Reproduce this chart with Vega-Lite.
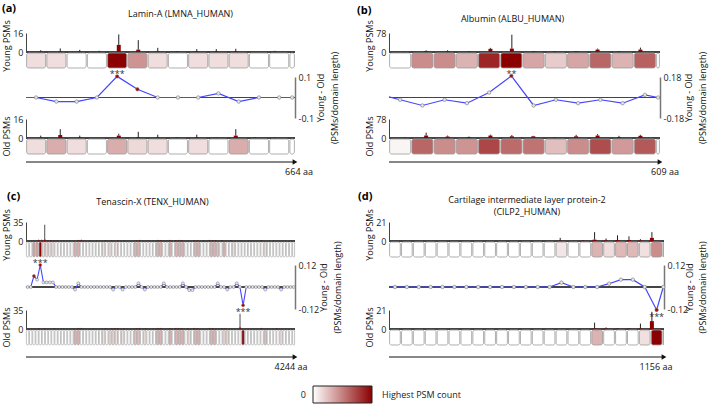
{
"$schema": "https://vega.github.io/schema/vega-lite/v6.json",
"padding": {"left": 2, "top": 2, "right": 2, "bottom": 0},
"autosize": {"type": "pad"},
"config": {
  "font": "Open Sans",
  "view": {"stroke": null},
  "axis": {"labelFontSize": 9, "titleFontSize": 9, "titleFontWeight": "normal", "labelColor": "#222", "titleColor": "#111", "ticks": false, "grid": false, "domainColor": "#444"},
  "title": {"color": "#000"}
},
"datasets": {
"A": [
{"s":0,"e":50,"m":25,"y":0.4,"ye":1.5,"o":0.5,"oe":2,"hy":0.13,"ho":0.13},
{"s":50,"e":100,"m":75,"y":0.5,"ye":3,"o":2.5,"oe":7.4,"hy":0.13,"ho":0.32},
{"s":100,"e":150,"m":125,"y":0.3,"ye":1.8,"o":0.5,"oe":2,"hy":0,"ho":0.13},
{"s":150,"e":200,"m":175,"y":0.2,"ye":1,"o":0,"oe":0,"hy":0,"ho":0},
{"s":200,"e":250,"m":225,"y":6,"ye":14.8,"o":2,"oe":3.6,"hy":1,"ho":0.32},
{"s":250,"e":300,"m":275,"y":2,"ye":10,"o":0.8,"oe":5.2,"hy":0.42,"ho":0.15},
{"s":300,"e":350,"m":325,"y":0.5,"ye":3.5,"o":0.5,"oe":2.8,"hy":0.13,"ho":0.13},
{"s":350,"e":400,"m":375,"y":0.2,"ye":0.6,"o":0.2,"oe":0.8,"hy":0,"ho":0},
{"s":400,"e":450,"m":425,"y":0.5,"ye":2.4,"o":0.5,"oe":2.8,"hy":0.13,"ho":0.13},
{"s":450,"e":500,"m":475,"y":0.5,"ye":2.4,"o":0.1,"oe":0.5,"hy":0.13,"ho":0},
{"s":500,"e":550,"m":525,"y":0.5,"ye":2.7,"o":2,"oe":7.4,"hy":0.13,"ho":0.32},
{"s":550,"e":600,"m":575,"y":0,"ye":0,"o":0.2,"oe":0.8,"hy":0,"ho":0},
{"s":600,"e":650,"m":625,"y":0.2,"ye":1,"o":0.1,"oe":0.5,"hy":0,"ho":0},
{"s":650,"e":664,"m":657,"y":0,"ye":0,"o":0,"oe":0,"hy":0,"ho":0}
],
"AL": [
{"x":0,"d":0,"p":-1},{"x":25,"d":0,"p":0},{"x":75,"d":-0.02,"p":0},{"x":125,"d":-0.02,"p":0},{"x":175,"d":0,"p":0},{"x":225,"d":0.103,"p":1,"t":"***"},{"x":275,"d":0.04,"p":1},{"x":325,"d":0,"p":0},{"x":375,"d":0,"p":0},{"x":425,"d":0,"p":0},{"x":475,"d":0.02,"p":0},{"x":525,"d":-0.02,"p":0},{"x":575,"d":0,"p":0},{"x":625,"d":0,"p":0},{"x":657,"d":0,"p":0}
],
"B": [
{"s":0,"e":50,"m":25,"y":0,"ye":2,"o":1,"oe":3,"hy":0,"ho":0.04},
{"s":50,"e":100,"m":75,"y":3,"ye":7,"o":10,"oe":22,"hy":0.45,"ho":0.6},
{"s":100,"e":150,"m":125,"y":3,"ye":7,"o":6,"oe":10,"hy":0.45,"ho":0.45},
{"s":150,"e":200,"m":175,"y":2,"ye":4,"o":4,"oe":6,"hy":0.3,"ho":0.42},
{"s":200,"e":250,"m":225,"y":13,"ye":17,"o":10,"oe":14,"hy":0.85,"ho":0.72},
{"s":250,"e":300,"m":275,"y":14,"ye":71,"o":7,"oe":12,"hy":1,"ho":0.58},
{"s":300,"e":350,"m":325,"y":2,"ye":4,"o":7,"oe":9,"hy":0.35,"ho":0.55},
{"s":350,"e":400,"m":375,"y":1.5,"ye":3,"o":1.5,"oe":3,"hy":0.2,"ho":0.25},
{"s":400,"e":450,"m":425,"y":2,"ye":4,"o":7,"oe":13,"hy":0.35,"ho":0.45},
{"s":450,"e":500,"m":475,"y":10,"ye":14,"o":10,"oe":16,"hy":0.6,"ho":0.7},
{"s":500,"e":550,"m":525,"y":2,"ye":4,"o":4,"oe":9,"hy":0.3,"ho":0.4},
{"s":550,"e":600,"m":575,"y":10,"ye":18,"o":9,"oe":13,"hy":0.62,"ho":0.65},
{"s":600,"e":609,"m":604.5,"y":0,"ye":0,"o":0,"oe":0,"hy":0,"ho":0}
],
"BL": [
{"x":0,"d":0.005,"p":-1},{"x":25,"d":-0.02,"p":0},{"x":75,"d":-0.07,"p":0},{"x":125,"d":-0.02,"p":0},{"x":175,"d":-0.05,"p":0},{"x":225,"d":0.043,"p":0},{"x":275,"d":0.19,"p":1,"t":"**"},{"x":325,"d":-0.07,"p":0},{"x":375,"d":-0.02,"p":0},{"x":425,"d":-0.05,"p":0},{"x":475,"d":-0.02,"p":0},{"x":525,"d":-0.05,"p":0},{"x":575,"d":0.023,"p":0},{"x":604.5,"d":0,"p":0}
],
"C": [
{"s":0,"e":50,"m":25,"y":0,"ye":0,"o":0,"oe":0,"hy":0,"ho":0},
{"s":50,"e":100,"m":75,"y":0,"ye":0,"o":0,"oe":0,"hy":0,"ho":0},
{"s":100,"e":150,"m":125,"y":1,"ye":2.5,"o":0.3,"oe":1,"hy":0.35,"ho":0},
{"s":150,"e":200,"m":175,"y":1,"ye":2.5,"o":0,"oe":0,"hy":0.35,"ho":0},
{"s":200,"e":250,"m":225,"y":3,"ye":30,"o":0.3,"oe":1,"hy":1,"ho":0},
{"s":250,"e":300,"m":275,"y":0.5,"ye":1.5,"o":0,"oe":0,"hy":0.15,"ho":0},
{"s":300,"e":350,"m":325,"y":0.5,"ye":1.5,"o":0,"oe":0,"hy":0.15,"ho":0},
{"s":350,"e":400,"m":375,"y":0.3,"ye":1,"o":0.3,"oe":1,"hy":0.12,"ho":0},
{"s":400,"e":450,"m":425,"y":0.3,"ye":1,"o":0,"oe":0,"hy":0.12,"ho":0},
{"s":450,"e":500,"m":475,"y":0,"ye":0,"o":0,"oe":0,"hy":0,"ho":0},
{"s":500,"e":550,"m":525,"y":0.2,"ye":0.8,"o":0.2,"oe":0.8,"hy":0,"ho":0},
{"s":550,"e":600,"m":575,"y":0,"ye":0,"o":0,"oe":0,"hy":0,"ho":0},
{"s":600,"e":650,"m":625,"y":0.2,"ye":0.8,"o":0,"oe":0,"hy":0,"ho":0},
{"s":650,"e":700,"m":675,"y":0,"ye":0,"o":0,"oe":0,"hy":0,"ho":0},
{"s":700,"e":750,"m":725,"y":0,"ye":0,"o":0,"oe":0,"hy":0,"ho":0},
{"s":750,"e":800,"m":775,"y":0.5,"ye":2,"o":0.5,"oe":2,"hy":0.3,"ho":0.3},
{"s":800,"e":850,"m":825,"y":1,"ye":2.5,"o":0.5,"oe":2,"hy":0.3,"ho":0.3},
{"s":850,"e":900,"m":875,"y":0,"ye":0,"o":0,"oe":0,"hy":0,"ho":0},
{"s":900,"e":950,"m":925,"y":0,"ye":0,"o":0,"oe":0,"hy":0,"ho":0},
{"s":950,"e":1000,"m":975,"y":0.2,"ye":0.8,"o":0,"oe":0,"hy":0,"ho":0},
{"s":1000,"e":1050,"m":1025,"y":0,"ye":0,"o":0.2,"oe":0.8,"hy":0,"ho":0},
{"s":1050,"e":1100,"m":1075,"y":0.2,"ye":0.8,"o":0,"oe":0,"hy":0,"ho":0},
{"s":1100,"e":1150,"m":1125,"y":0,"ye":0,"o":0,"oe":0,"hy":0,"ho":0},
{"s":1150,"e":1200,"m":1175,"y":0,"ye":0,"o":0,"oe":0,"hy":0,"ho":0},
{"s":1200,"e":1250,"m":1225,"y":0.3,"ye":1.5,"o":0.3,"oe":1.5,"hy":0.12,"ho":0.12},
{"s":1250,"e":1300,"m":1275,"y":0,"ye":0,"o":0,"oe":0,"hy":0,"ho":0},
{"s":1300,"e":1350,"m":1325,"y":0.3,"ye":1,"o":0.3,"oe":1,"hy":0.12,"ho":0.15},
{"s":1350,"e":1400,"m":1375,"y":0,"ye":0,"o":0.5,"oe":1.5,"hy":0,"ho":0.15},
{"s":1400,"e":1450,"m":1425,"y":0.3,"ye":1,"o":0.3,"oe":1,"hy":0.12,"ho":0.12},
{"s":1450,"e":1500,"m":1475,"y":0,"ye":0,"o":0,"oe":0,"hy":0,"ho":0},
{"s":1500,"e":1550,"m":1525,"y":0.2,"ye":0.8,"o":0.3,"oe":1,"hy":0,"ho":0.12},
{"s":1550,"e":1600,"m":1575,"y":0,"ye":0,"o":0,"oe":0,"hy":0,"ho":0},
{"s":1600,"e":1650,"m":1625,"y":0,"ye":0,"o":0,"oe":0,"hy":0,"ho":0},
{"s":1650,"e":1700,"m":1675,"y":0,"ye":0,"o":0,"oe":0,"hy":0,"ho":0},
{"s":1700,"e":1750,"m":1725,"y":0.5,"ye":1.5,"o":0.5,"oe":1.5,"hy":0.3,"ho":0.25},
{"s":1750,"e":1800,"m":1775,"y":0.5,"ye":2,"o":0.5,"oe":2,"hy":0.3,"ho":0.25},
{"s":1800,"e":1850,"m":1825,"y":0,"ye":0,"o":0,"oe":0,"hy":0,"ho":0},
{"s":1850,"e":1900,"m":1875,"y":0,"ye":0,"o":0.5,"oe":1.5,"hy":0,"ho":0.12},
{"s":1900,"e":1950,"m":1925,"y":0.2,"ye":0.8,"o":0,"oe":0,"hy":0,"ho":0},
{"s":1950,"e":2000,"m":1975,"y":0,"ye":0,"o":0,"oe":0,"hy":0,"ho":0},
{"s":2000,"e":2050,"m":2025,"y":0,"ye":0,"o":0,"oe":0,"hy":0,"ho":0},
{"s":2050,"e":2100,"m":2075,"y":0.5,"ye":2,"o":0.5,"oe":2,"hy":0.3,"ho":0.3},
{"s":2100,"e":2150,"m":2125,"y":0.5,"ye":1.5,"o":0.5,"oe":2,"hy":0.3,"ho":0.3},
{"s":2150,"e":2200,"m":2175,"y":0.2,"ye":0.8,"o":0,"oe":0,"hy":0,"ho":0},
{"s":2200,"e":2250,"m":2225,"y":0.2,"ye":0.8,"o":0,"oe":0,"hy":0,"ho":0},
{"s":2250,"e":2300,"m":2275,"y":0.5,"ye":2,"o":0.5,"oe":1.5,"hy":0.3,"ho":0.3},
{"s":2300,"e":2350,"m":2325,"y":0,"ye":0,"o":0,"oe":0,"hy":0,"ho":0},
{"s":2350,"e":2400,"m":2375,"y":0.5,"ye":1.5,"o":0.5,"oe":2,"hy":0.3,"ho":0.3},
{"s":2400,"e":2450,"m":2425,"y":0.5,"ye":2,"o":0.5,"oe":2,"hy":0.3,"ho":0.3},
{"s":2450,"e":2500,"m":2475,"y":0.5,"ye":1.5,"o":0.5,"oe":1.5,"hy":0.3,"ho":0.3},
{"s":2500,"e":2550,"m":2525,"y":0,"ye":0,"o":0,"oe":0,"hy":0,"ho":0},
{"s":2550,"e":2600,"m":2575,"y":0.2,"ye":0.8,"o":0.3,"oe":1,"hy":0,"ho":0.12},
{"s":2600,"e":2650,"m":2625,"y":0,"ye":0,"o":0,"oe":0,"hy":0,"ho":0},
{"s":2650,"e":2700,"m":2675,"y":0.5,"ye":1.5,"o":0.5,"oe":2,"hy":0.3,"ho":0.3},
{"s":2700,"e":2750,"m":2725,"y":0.5,"ye":1.5,"o":0.5,"oe":1.5,"hy":0.3,"ho":0.3},
{"s":2750,"e":2800,"m":2775,"y":0,"ye":0,"o":0,"oe":0,"hy":0,"ho":0},
{"s":2800,"e":2850,"m":2825,"y":0.2,"ye":0.8,"o":0,"oe":0,"hy":0,"ho":0},
{"s":2850,"e":2900,"m":2875,"y":0,"ye":0,"o":0,"oe":0,"hy":0,"ho":0},
{"s":2900,"e":2950,"m":2925,"y":0.5,"ye":2,"o":0.5,"oe":2,"hy":0.3,"ho":0.3},
{"s":2950,"e":3000,"m":2975,"y":0.5,"ye":1.5,"o":0.5,"oe":1.5,"hy":0.3,"ho":0.3},
{"s":3000,"e":3050,"m":3025,"y":0.5,"ye":1.5,"o":0,"oe":0,"hy":0.25,"ho":0},
{"s":3050,"e":3100,"m":3075,"y":0,"ye":0,"o":0,"oe":0,"hy":0,"ho":0},
{"s":3100,"e":3150,"m":3125,"y":0.5,"ye":1.5,"o":0.3,"oe":1,"hy":0.3,"ho":0.15},
{"s":3150,"e":3200,"m":3175,"y":0,"ye":0,"o":0.3,"oe":1,"hy":0,"ho":0.15},
{"s":3200,"e":3250,"m":3225,"y":0,"ye":0,"o":0,"oe":0,"hy":0,"ho":0},
{"s":3250,"e":3300,"m":3275,"y":0.3,"ye":1.5,"o":0,"oe":0,"hy":0.12,"ho":0},
{"s":3300,"e":3350,"m":3325,"y":0,"ye":0,"o":0,"oe":0,"hy":0,"ho":0},
{"s":3350,"e":3400,"m":3375,"y":0,"ye":0,"o":0,"oe":0,"hy":0,"ho":0},
{"s":3400,"e":3450,"m":3425,"y":0.2,"ye":0.8,"o":3,"oe":28,"hy":0,"ho":1},
{"s":3450,"e":3500,"m":3475,"y":0,"ye":0,"o":0,"oe":0,"hy":0,"ho":0},
{"s":3500,"e":3550,"m":3525,"y":0,"ye":0,"o":0,"oe":0,"hy":0,"ho":0},
{"s":3550,"e":3600,"m":3575,"y":0.2,"ye":0.8,"o":0,"oe":0,"hy":0,"ho":0},
{"s":3600,"e":3650,"m":3625,"y":0,"ye":0,"o":0,"oe":0,"hy":0,"ho":0},
{"s":3650,"e":3700,"m":3675,"y":0,"ye":0,"o":0,"oe":0,"hy":0,"ho":0},
{"s":3700,"e":3750,"m":3725,"y":0,"ye":0,"o":0,"oe":0,"hy":0,"ho":0},
{"s":3750,"e":3800,"m":3775,"y":0.3,"ye":1.5,"o":0.5,"oe":2,"hy":0.12,"ho":0.25},
{"s":3800,"e":3850,"m":3825,"y":0,"ye":0,"o":0,"oe":0,"hy":0,"ho":0},
{"s":3850,"e":3900,"m":3875,"y":0,"ye":0,"o":0,"oe":0,"hy":0,"ho":0},
{"s":3900,"e":3950,"m":3925,"y":0,"ye":0,"o":0,"oe":0,"hy":0,"ho":0},
{"s":3950,"e":4000,"m":3975,"y":0.2,"ye":0.8,"o":0,"oe":0,"hy":0,"ho":0},
{"s":4000,"e":4050,"m":4025,"y":0,"ye":0,"o":0.5,"oe":1.5,"hy":0,"ho":0.12},
{"s":4050,"e":4100,"m":4075,"y":0,"ye":0,"o":0,"oe":0,"hy":0,"ho":0},
{"s":4100,"e":4150,"m":4125,"y":0,"ye":0,"o":0,"oe":0,"hy":0,"ho":0},
{"s":4150,"e":4200,"m":4175,"y":0,"ye":0,"o":0,"oe":0,"hy":0,"ho":0},
{"s":4200,"e":4244,"m":4222,"y":0,"ye":0,"o":0,"oe":0,"hy":0,"ho":0}
],
"CL": [
{"x":0,"d":0,"p":-1},
{"x":25,"d":0,"p":0},{"x":75,"d":0,"p":0},{"x":125,"d":0.06,"p":1},{"x":175,"d":0.04,"p":0},{"x":225,"d":0.12,"p":1,"t":"***"},{"x":275,"d":0.025,"p":0},{"x":325,"d":0.025,"p":0},{"x":375,"d":0.025,"p":0},{"x":425,"d":0.025,"p":0},{"x":475,"d":0,"p":0},
{"x":525,"d":0,"p":0},{"x":575,"d":0,"p":0},{"x":625,"d":0,"p":0},{"x":675,"d":0,"p":0},{"x":725,"d":0,"p":0},{"x":775,"d":-0.014,"p":0},{"x":825,"d":0.02,"p":0},{"x":875,"d":0,"p":0},{"x":925,"d":0,"p":0},{"x":975,"d":0,"p":0},
{"x":1025,"d":0,"p":0},{"x":1075,"d":0,"p":0},{"x":1125,"d":0,"p":0},{"x":1175,"d":0,"p":0},{"x":1225,"d":0,"p":0},{"x":1275,"d":0,"p":0},{"x":1325,"d":0,"p":0},{"x":1375,"d":-0.014,"p":0},{"x":1425,"d":0,"p":0},{"x":1475,"d":0,"p":0},
{"x":1525,"d":-0.014,"p":0},{"x":1575,"d":0,"p":0},{"x":1625,"d":0,"p":0},{"x":1675,"d":0,"p":0},{"x":1725,"d":0,"p":0},{"x":1775,"d":0.02,"p":0},{"x":1825,"d":0,"p":0},{"x":1875,"d":-0.014,"p":0},{"x":1925,"d":0,"p":0},{"x":1975,"d":0,"p":0},
{"x":2025,"d":0,"p":0},{"x":2075,"d":0,"p":0},{"x":2125,"d":0,"p":0},{"x":2175,"d":0.02,"p":0},{"x":2225,"d":0,"p":0},{"x":2275,"d":0,"p":0},{"x":2325,"d":0,"p":0},{"x":2375,"d":0,"p":0},{"x":2425,"d":0,"p":0},{"x":2475,"d":0.02,"p":0},
{"x":2525,"d":0,"p":0},{"x":2575,"d":-0.017,"p":0},{"x":2625,"d":-0.017,"p":0},{"x":2675,"d":0,"p":0},{"x":2725,"d":0,"p":0},{"x":2775,"d":0,"p":0},{"x":2825,"d":0,"p":0},{"x":2875,"d":0,"p":0},{"x":2925,"d":0,"p":0},{"x":2975,"d":0,"p":0},
{"x":3025,"d":0.02,"p":0},{"x":3075,"d":0,"p":0},{"x":3125,"d":0,"p":0},{"x":3175,"d":-0.014,"p":0},{"x":3225,"d":0,"p":0},{"x":3275,"d":0,"p":0},{"x":3325,"d":0.02,"p":0},{"x":3375,"d":0,"p":0},{"x":3425,"d":-0.1,"p":1,"t":"***"},{"x":3475,"d":0,"p":0},
{"x":3525,"d":0,"p":0},{"x":3575,"d":0,"p":0},{"x":3625,"d":0,"p":0},{"x":3675,"d":0,"p":0},{"x":3725,"d":0,"p":0},{"x":3775,"d":-0.014,"p":0},{"x":3825,"d":0,"p":0},{"x":3875,"d":0,"p":0},{"x":3925,"d":0,"p":0},{"x":3975,"d":0,"p":0},
{"x":4025,"d":-0.014,"p":0},{"x":4075,"d":0,"p":0},{"x":4125,"d":0,"p":0},{"x":4175,"d":0,"p":0},{"x":4222,"d":0,"p":0}
],
"D": [
{"s":0,"e":50,"m":25,"y":0,"ye":0,"o":0,"oe":0,"hy":0,"ho":0},
{"s":50,"e":100,"m":75,"y":0,"ye":0,"o":0,"oe":0,"hy":0,"ho":0},
{"s":100,"e":150,"m":125,"y":0,"ye":0,"o":0,"oe":0,"hy":0,"ho":0},
{"s":150,"e":200,"m":175,"y":0,"ye":0,"o":0,"oe":0,"hy":0,"ho":0},
{"s":200,"e":250,"m":225,"y":0,"ye":0,"o":0,"oe":0,"hy":0,"ho":0},
{"s":250,"e":300,"m":275,"y":0,"ye":0,"o":0,"oe":0,"hy":0,"ho":0},
{"s":300,"e":350,"m":325,"y":0,"ye":0,"o":0,"oe":0,"hy":0,"ho":0},
{"s":350,"e":400,"m":375,"y":0,"ye":0,"o":0,"oe":0,"hy":0,"ho":0},
{"s":400,"e":450,"m":425,"y":0,"ye":0,"o":0,"oe":0,"hy":0,"ho":0},
{"s":450,"e":500,"m":475,"y":0,"ye":0,"o":0,"oe":0,"hy":0,"ho":0},
{"s":500,"e":550,"m":525,"y":0,"ye":0,"o":0,"oe":0,"hy":0,"ho":0},
{"s":550,"e":600,"m":575,"y":0,"ye":0,"o":0,"oe":0,"hy":0,"ho":0},
{"s":600,"e":650,"m":625,"y":0,"ye":0,"o":0,"oe":0,"hy":0,"ho":0},
{"s":650,"e":700,"m":675,"y":0,"ye":0,"o":0,"oe":0,"hy":0,"ho":0},
{"s":700,"e":750,"m":725,"y":0.3,"ye":3.5,"o":0,"oe":0,"hy":0.1,"ho":0},
{"s":750,"e":800,"m":775,"y":0,"ye":0,"o":0,"oe":0,"hy":0,"ho":0},
{"s":800,"e":850,"m":825,"y":0.2,"ye":1,"o":0,"oe":0,"hy":0,"ho":0},
{"s":850,"e":900,"m":875,"y":1.5,"ye":9.8,"o":0.5,"oe":7,"hy":0.3,"ho":0.3},
{"s":900,"e":950,"m":925,"y":0.5,"ye":2.8,"o":0.3,"oe":1.7,"hy":0.13,"ho":0},
{"s":950,"e":1000,"m":975,"y":1,"ye":6.3,"o":0.2,"oe":1,"hy":0.28,"ho":0},
{"s":1000,"e":1050,"m":1025,"y":1,"ye":5.2,"o":0.2,"oe":1,"hy":0.28,"ho":0},
{"s":1050,"e":1100,"m":1075,"y":0.5,"ye":2,"o":0.5,"oe":6,"hy":0.12,"ho":0.12},
{"s":1100,"e":1150,"m":1125,"y":3.5,"ye":9.8,"o":8.7,"oe":19,"hy":0.45,"ho":1},
{"s":1150,"e":1156,"m":1153,"y":0,"ye":0,"o":0,"oe":0,"hy":0,"ho":0}
],
"DL": [
{"x":0,"d":0,"p":-1},
{"x":25,"d":0,"p":0},{"x":75,"d":0,"p":0},{"x":125,"d":0,"p":0},{"x":175,"d":0,"p":0},{"x":225,"d":0,"p":0},{"x":275,"d":0,"p":0},{"x":325,"d":0,"p":0},{"x":375,"d":0,"p":0},{"x":425,"d":0,"p":0},{"x":475,"d":0,"p":0},{"x":525,"d":0,"p":0},{"x":575,"d":0,"p":0},{"x":625,"d":0,"p":0},{"x":675,"d":0,"p":0},
{"x":725,"d":0.024,"p":0},{"x":775,"d":0,"p":0},{"x":825,"d":0,"p":0},{"x":875,"d":0,"p":0},{"x":925,"d":0.018,"p":0},{"x":975,"d":0.04,"p":0},{"x":1025,"d":0.04,"p":0},{"x":1075,"d":0,"p":0},{"x":1125,"d":-0.125,"p":1,"t":"***"},{"x":1153,"d":0,"p":0}
]
},
"vconcat": [
{"concat": [
{"width":269,"height":19,"title":{"text":"(a)","anchor":"start","frame":"group","dx":-24,"dy":4,"offset":0,"fontSize":11,"fontWeight":"bold"},"data":{"name":"A"},"layer":[
 {"mark":{"type":"rule","color":"#444"},"encoding":{"y":{"datum":0,"type":"quantitative","scale":{"domain":[0,16],"nice":false},"axis":{"title":"Young PSMs","values":[0,16],"titleY":12.5,"titlePadding":1,"labelPadding":3}}}},
 {"mark":{"type":"rule","color":"#222","strokeWidth":1},"encoding":{"x":{"field":"m","type":"quantitative","title":"Lamin-A (LMNA_HUMAN)","scale":{"domain":[0,664],"nice":false,"zero":false},"axis":{"orient":"top","domain":false,"labels":false,"ticks":false,"titlePadding":14.5,"titleX":154}},"y":{"field":"ye","type":"quantitative","title":"Young PSMs"},"y2":{"field":"y"}}},
 {"mark":{"type":"bar","orient":"vertical","size":4,"color":"#8b0000"},"encoding":{"x":{"field":"m","type":"quantitative","title":"Lamin-A (LMNA_HUMAN)"},"y":{"field":"y","type":"quantitative","title":"Young PSMs","stack":null}}}
]},
{"width":271,"height":19,"title":{"text":"(b)","anchor":"start","frame":"group","dx":-32,"dy":1,"offset":0,"fontSize":11,"fontWeight":"bold"},"data":{"name":"B"},"layer":[
 {"mark":{"type":"rule","color":"#444"},"encoding":{"y":{"datum":0,"type":"quantitative","scale":{"domain":[0,78],"nice":false},"axis":{"title":"Young PSMs","values":[0,78],"titleY":12.5,"titlePadding":1,"labelPadding":3}}}},
 {"mark":{"type":"rule","color":"#222","strokeWidth":1},"encoding":{"x":{"field":"m","type":"quantitative","title":"Albumin (ALBU_HUMAN)","scale":{"domain":[0,609],"nice":false,"zero":false},"axis":{"orient":"top","domain":false,"labels":false,"ticks":false,"titlePadding":9.5,"titleX":123}},"y":{"field":"ye","type":"quantitative","title":"Young PSMs"},"y2":{"field":"y"}}},
 {"mark":{"type":"bar","orient":"vertical","size":4,"color":"#8b0000"},"encoding":{"x":{"field":"m","type":"quantitative","title":"Albumin (ALBU_HUMAN)"},"y":{"field":"y","type":"quantitative","title":"Young PSMs","stack":null}}}
]},
{"width":269,"height":23,"data":{"name":"A"},"mark":{"type":"rect","stroke":"#9a9a9a","strokeWidth":0.8,"cornerRadius":2,"xOffset":0.6,"x2Offset":-0.6},"encoding":{"x":{"field":"s","type":"quantitative","scale":{"domain":[0,664],"nice":false,"zero":false},"axis":null},"x2":{"field":"e"},"y":{"datum":"r","type":"nominal","scale":{"paddingInner":0,"paddingOuter":0.2667,"align":0},"axis":null},"color":{"field":"hy","type":"quantitative","scale":{"domain":[0,1],"range":["#ffffff","#8b0000"],"interpolate":"rgb"},"legend":null}}},
{"width":271,"height":23,"data":{"name":"B"},"mark":{"type":"rect","stroke":"#9a9a9a","strokeWidth":0.8,"cornerRadius":2,"xOffset":0.6,"x2Offset":-0.6},"encoding":{"x":{"field":"s","type":"quantitative","scale":{"domain":[0,609],"nice":false,"zero":false},"axis":null},"x2":{"field":"e"},"y":{"datum":"r","type":"nominal","scale":{"paddingInner":0,"paddingOuter":0.2667,"align":0},"axis":null},"color":{"field":"hy","type":"quantitative","scale":{"domain":[0,1],"range":["#ffffff","#8b0000"],"interpolate":"rgb"},"legend":null}}},
{"width":269,"height":41,"data":{"name":"AL"},"layer":[
 {"mark":{"type":"rule","color":"#444","strokeWidth":1},"encoding":{"y":{"datum":0,"type":"quantitative","scale":{"domain":[-0.1,0.1],"nice":false,"zero":false},"axis":{"title":["Young - Old","(PSMs/domain length)"],"orient":"right","values":[-0.1,0.1],"format":".2~f","labelExpr":"replace(datum.label, '\u2212', '-')","domainColor":"#777","domainWidth":1.5,"titleAngle":270,"titleBaseline":"top","titleX":21,"titleLineHeight":14,"labelPadding":3}}}},
 {"mark":{"type":"line","color":"#4646ff","strokeWidth":1.2},"encoding":{"x":{"field":"x","type":"quantitative","scale":{"domain":[0,664],"nice":false,"zero":false},"axis":null},"y":{"field":"d","type":"quantitative","title":["Young - Old","(PSMs/domain length)"]}}},
 {"transform":[{"filter":"datum.p >= 0"}],"mark":{"type":"circle","size":12,"stroke":"#777","strokeWidth":0.6,"opacity":1},"encoding":{"x":{"field":"x","type":"quantitative"},"y":{"field":"d","type":"quantitative","title":["Young - Old","(PSMs/domain length)"]},"color":{"condition":{"test":"datum.p == 1","value":"#b00000"},"value":"#e6e6e6"}}},
 {"transform":[{"filter":"datum.t && datum.d > 0"}],"mark":{"type":"text","fontSize":9,"dy":-2,"color":"#333"},"encoding":{"x":{"field":"x","type":"quantitative"},"y":{"field":"d","type":"quantitative","title":["Young - Old","(PSMs/domain length)"]},"text":{"field":"t"}}}
]},
{"width":271,"height":41,"data":{"name":"BL"},"layer":[
 {"mark":{"type":"rule","color":"#444","strokeWidth":1},"encoding":{"y":{"datum":0,"type":"quantitative","scale":{"domain":[-0.18,0.18],"nice":false,"zero":false},"axis":{"title":["Young - Old","(PSMs/domain length)"],"orient":"right","values":[-0.18,0.18],"format":".2~f","labelExpr":"replace(datum.label, '\u2212', '-')","domainColor":"#777","domainWidth":1.5,"titleAngle":270,"titleBaseline":"top","titleX":24,"titleLineHeight":14,"labelPadding":3}}}},
 {"mark":{"type":"line","color":"#4646ff","strokeWidth":1.2},"encoding":{"x":{"field":"x","type":"quantitative","scale":{"domain":[0,609],"nice":false,"zero":false},"axis":null},"y":{"field":"d","type":"quantitative","title":["Young - Old","(PSMs/domain length)"]}}},
 {"transform":[{"filter":"datum.p >= 0"}],"mark":{"type":"circle","size":12,"stroke":"#777","strokeWidth":0.6,"opacity":1},"encoding":{"x":{"field":"x","type":"quantitative"},"y":{"field":"d","type":"quantitative","title":["Young - Old","(PSMs/domain length)"]},"color":{"condition":{"test":"datum.p == 1","value":"#b00000"},"value":"#e6e6e6"}}},
 {"transform":[{"filter":"datum.t && datum.d > 0"}],"mark":{"type":"text","fontSize":9,"dy":-2,"color":"#333"},"encoding":{"x":{"field":"x","type":"quantitative"},"y":{"field":"d","type":"quantitative","title":["Young - Old","(PSMs/domain length)"]},"text":{"field":"t"}}}
]},
{"width":269,"height":19,"data":{"name":"A"},"layer":[
 {"mark":{"type":"rule","color":"#444"},"encoding":{"y":{"datum":0,"type":"quantitative","scale":{"domain":[0,16],"nice":false},"axis":{"title":"Old PSMs","values":[0,16],"titleY":17,"titlePadding":1,"labelPadding":3}}}},
 {"mark":{"type":"rule","color":"#222","strokeWidth":1},"encoding":{"x":{"field":"m","type":"quantitative","scale":{"domain":[0,664],"nice":false,"zero":false},"axis":null},"y":{"field":"oe","type":"quantitative","title":"Old PSMs"},"y2":{"field":"o"}}},
 {"mark":{"type":"bar","orient":"vertical","size":4,"color":"#8b0000"},"encoding":{"x":{"field":"m","type":"quantitative"},"y":{"field":"o","type":"quantitative","title":"Old PSMs","stack":null}}}
]},
{"width":271,"height":19,"data":{"name":"B"},"layer":[
 {"mark":{"type":"rule","color":"#444"},"encoding":{"y":{"datum":0,"type":"quantitative","scale":{"domain":[0,78],"nice":false},"axis":{"title":"Old PSMs","values":[0,78],"titleY":17,"titlePadding":1,"labelPadding":3}}}},
 {"mark":{"type":"rule","color":"#222","strokeWidth":1},"encoding":{"x":{"field":"m","type":"quantitative","scale":{"domain":[0,609],"nice":false,"zero":false},"axis":null},"y":{"field":"oe","type":"quantitative","title":"Old PSMs"},"y2":{"field":"o"}}},
 {"mark":{"type":"bar","orient":"vertical","size":4,"color":"#8b0000"},"encoding":{"x":{"field":"m","type":"quantitative"},"y":{"field":"o","type":"quantitative","title":"Old PSMs","stack":null}}}
]},
{"width":269,"height":22,"data":{"name":"A"},"mark":{"type":"rect","stroke":"#9a9a9a","strokeWidth":0.8,"cornerRadius":2,"xOffset":0.6,"x2Offset":-0.6},"encoding":{"x":{"field":"s","type":"quantitative","scale":{"domain":[0,664],"nice":false,"zero":false},"axis":null},"x2":{"field":"e"},"y":{"datum":"r","type":"nominal","scale":{"paddingInner":0,"paddingOuter":0.2333,"align":0},"axis":null},"color":{"field":"ho","type":"quantitative","scale":{"domain":[0,1],"range":["#ffffff","#8b0000"],"interpolate":"rgb"},"legend":null}}},
{"width":271,"height":22,"data":{"name":"B"},"mark":{"type":"rect","stroke":"#9a9a9a","strokeWidth":0.8,"cornerRadius":2,"xOffset":0.6,"x2Offset":-0.6},"encoding":{"x":{"field":"s","type":"quantitative","scale":{"domain":[0,609],"nice":false,"zero":false},"axis":null},"x2":{"field":"e"},"y":{"datum":"r","type":"nominal","scale":{"paddingInner":0,"paddingOuter":0.2333,"align":0},"axis":null},"color":{"field":"ho","type":"quantitative","scale":{"domain":[0,1],"range":["#ffffff","#8b0000"],"interpolate":"rgb"},"legend":null}}},
{"width":269,"height":59,"data":{"values":[{"z":0,"len":664,"one":1,"lab":"664 aa"}]},"layer":[
 {"mark":{"type":"rule","color":"#111","strokeWidth":1},"encoding":{"x":{"field":"z","type":"quantitative","scale":{"domain":[0,664],"nice":false,"zero":false},"axis":null},"x2":{"field":"len"},"y":{"field":"one","type":"quantitative","scale":{"domain":[0,1]},"axis":null}}},
 {"mark":{"type":"point","shape":"triangle-right","size":30,"filled":true,"color":"#111","opacity":1},"encoding":{"x":{"field":"len","type":"quantitative"},"y":{"field":"one","type":"quantitative"}}},
 {"mark":{"type":"text","fontSize":9,"dy":10,"dx":4,"color":"#111"},"encoding":{"x":{"field":"len","type":"quantitative"},"y":{"field":"one","type":"quantitative"},"text":{"field":"lab"}}}
]},
{"width":271,"height":59,"data":{"values":[{"z":0,"len":609,"one":1,"lab":"609 aa"}]},"layer":[
 {"mark":{"type":"rule","color":"#111","strokeWidth":1},"encoding":{"x":{"field":"z","type":"quantitative","scale":{"domain":[0,609],"nice":false,"zero":false},"axis":null},"x2":{"field":"len"},"y":{"field":"one","type":"quantitative","scale":{"domain":[0,1]},"axis":null}}},
 {"mark":{"type":"point","shape":"triangle-right","size":30,"filled":true,"color":"#111","opacity":1},"encoding":{"x":{"field":"len","type":"quantitative"},"y":{"field":"one","type":"quantitative"}}},
 {"mark":{"type":"text","fontSize":9,"dy":10,"dx":5,"color":"#111"},"encoding":{"x":{"field":"len","type":"quantitative"},"y":{"field":"one","type":"quantitative"},"text":{"field":"lab"}}}
]},
{"width":269,"height":19,"title":{"text":"(c)","anchor":"start","frame":"group","dx":-19,"dy":5,"offset":0,"fontSize":11,"fontWeight":"bold"},"data":{"name":"C"},"layer":[
 {"mark":{"type":"rule","color":"#444"},"encoding":{"y":{"datum":0,"type":"quantitative","scale":{"domain":[0,35],"nice":false},"axis":{"title":"Young PSMs","values":[0,35],"titleY":12.5,"titlePadding":1,"labelPadding":3}}}},
 {"mark":{"type":"rule","color":"#222","strokeWidth":0.8},"encoding":{"x":{"field":"m","type":"quantitative","title":"Tenascin-X (TENX_HUMAN)","scale":{"domain":[0,4244],"nice":false,"zero":false},"axis":{"orient":"top","domain":false,"labels":false,"ticks":false,"titlePadding":16,"titleX":126}},"y":{"field":"ye","type":"quantitative","title":"Young PSMs"},"y2":{"field":"y"}}},
 {"mark":{"type":"bar","orient":"vertical","size":1.6,"color":"#8b0000"},"encoding":{"x":{"field":"m","type":"quantitative","title":"Tenascin-X (TENX_HUMAN)"},"y":{"field":"y","type":"quantitative","title":"Young PSMs","stack":null}}}
]},
{"width":275,"height":19,"title":{"text":"(d)","anchor":"start","frame":"group","dx":-31,"dy":7,"offset":0,"fontSize":11,"fontWeight":"bold"},"data":{"name":"D"},"layer":[
 {"mark":{"type":"rule","color":"#444"},"encoding":{"y":{"datum":0,"type":"quantitative","scale":{"domain":[0,21],"nice":false},"axis":{"title":"Young PSMs","values":[0,21],"titleY":12.5,"titlePadding":1,"labelPadding":3}}}},
 {"mark":{"type":"rule","color":"#222","strokeWidth":1},"encoding":{"x":{"field":"m","type":"quantitative","title":["Cartilage intermediate layer protein-2","(CILP2_HUMAN)"],"scale":{"domain":[0,1156],"nice":false,"zero":false},"axis":{"orient":"top","domain":false,"labels":false,"ticks":false,"titlePadding":6,"titleLineHeight":12}},"y":{"field":"ye","type":"quantitative","title":"Young PSMs"},"y2":{"field":"y"}}},
 {"mark":{"type":"bar","orient":"vertical","size":4,"color":"#8b0000"},"encoding":{"x":{"field":"m","type":"quantitative","title":["Cartilage intermediate layer protein-2","(CILP2_HUMAN)"]},"y":{"field":"y","type":"quantitative","title":"Young PSMs","stack":null}}}
]},
{"width":269,"height":22,"data":{"name":"C"},"mark":{"type":"rect","stroke":"#9a9a9a","strokeWidth":0.6,"cornerRadius":1.2,"xOffset":0.4,"x2Offset":-0.4},"encoding":{"x":{"field":"s","type":"quantitative","scale":{"domain":[0,4244],"nice":false,"zero":false},"axis":null},"x2":{"field":"e"},"y":{"datum":"r","type":"nominal","scale":{"paddingInner":0,"paddingOuter":0.2333,"align":0},"axis":null},"color":{"field":"hy","type":"quantitative","scale":{"domain":[0,1],"range":["#ffffff","#8b0000"],"interpolate":"rgb"},"legend":null}}},
{"width":275,"height":22,"data":{"name":"D"},"mark":{"type":"rect","stroke":"#9a9a9a","strokeWidth":0.8,"cornerRadius":2,"xOffset":0.6,"x2Offset":-0.6},"encoding":{"x":{"field":"s","type":"quantitative","scale":{"domain":[0,1156],"nice":false,"zero":false},"axis":null},"x2":{"field":"e"},"y":{"datum":"r","type":"nominal","scale":{"paddingInner":0,"paddingOuter":0.2333,"align":0},"axis":null},"color":{"field":"hy","type":"quantitative","scale":{"domain":[0,1],"range":["#ffffff","#8b0000"],"interpolate":"rgb"},"legend":null}}},
{"width":269,"height":44,"data":{"name":"CL"},"layer":[
 {"mark":{"type":"rule","color":"#444","strokeWidth":1},"encoding":{"y":{"datum":0,"type":"quantitative","scale":{"domain":[-0.12,0.12],"nice":false,"zero":false},"axis":{"title":["Young - Old","(PSMs/domain length)"],"orient":"right","values":[-0.12,0.12],"format":".2~f","labelExpr":"replace(datum.label, '\u2212', '-')","domainColor":"#777","domainWidth":1.5,"titleAngle":270,"titleBaseline":"top","titleX":24,"titleLineHeight":14,"labelPadding":3}}}},
 {"mark":{"type":"line","color":"#4646ff","strokeWidth":1.1},"encoding":{"x":{"field":"x","type":"quantitative","scale":{"domain":[0,4244],"nice":false,"zero":false},"axis":null},"y":{"field":"d","type":"quantitative","title":["Young - Old","(PSMs/domain length)"]}}},
 {"transform":[{"filter":"datum.p >= 0"}],"mark":{"type":"circle","size":9,"stroke":"#777","strokeWidth":0.5,"opacity":1},"encoding":{"x":{"field":"x","type":"quantitative"},"y":{"field":"d","type":"quantitative","title":["Young - Old","(PSMs/domain length)"]},"color":{"condition":{"test":"datum.p == 1","value":"#b00000"},"value":"#e6e6e6"}}},
 {"transform":[{"filter":"datum.t && datum.d > 0"}],"mark":{"type":"text","fontSize":9,"dy":-2,"color":"#333"},"encoding":{"x":{"field":"x","type":"quantitative"},"y":{"field":"d","type":"quantitative","title":["Young - Old","(PSMs/domain length)"]},"text":{"field":"t"}}},
 {"transform":[{"filter":"datum.t && datum.d < 0"}],"mark":{"type":"text","fontSize":9,"dy":7,"color":"#333"},"encoding":{"x":{"field":"x","type":"quantitative"},"y":{"field":"d","type":"quantitative","title":["Young - Old","(PSMs/domain length)"]},"text":{"field":"t"}}}
]},
{"width":275,"height":44,"data":{"name":"DL"},"layer":[
 {"mark":{"type":"rule","color":"#444","strokeWidth":1},"encoding":{"y":{"datum":0,"type":"quantitative","scale":{"domain":[-0.12,0.12],"nice":false,"zero":false},"axis":{"title":["Young - Old","(PSMs/domain length)"],"orient":"right","values":[-0.12,0.12],"format":".2~f","labelExpr":"replace(datum.label, '\u2212', '-')","domainColor":"#777","domainWidth":1.5,"titleAngle":270,"titleBaseline":"top","titleX":21,"titleLineHeight":13,"labelPadding":3}}}},
 {"mark":{"type":"line","color":"#4646ff","strokeWidth":1.2},"encoding":{"x":{"field":"x","type":"quantitative","scale":{"domain":[0,1156],"nice":false,"zero":false},"axis":null},"y":{"field":"d","type":"quantitative","title":["Young - Old","(PSMs/domain length)"]}}},
 {"transform":[{"filter":"datum.p >= 0"}],"mark":{"type":"circle","size":12,"stroke":"#777","strokeWidth":0.6,"opacity":1},"encoding":{"x":{"field":"x","type":"quantitative"},"y":{"field":"d","type":"quantitative","title":["Young - Old","(PSMs/domain length)"]},"color":{"condition":{"test":"datum.p == 1","value":"#b00000"},"value":"#e6e6e6"}}},
 {"transform":[{"filter":"datum.t && datum.d < 0"}],"mark":{"type":"text","fontSize":9,"dy":7,"color":"#333"},"encoding":{"x":{"field":"x","type":"quantitative"},"y":{"field":"d","type":"quantitative","title":["Young - Old","(PSMs/domain length)"]},"text":{"field":"t"}}}
]},
{"width":269,"height":19,"data":{"name":"C"},"layer":[
 {"mark":{"type":"rule","color":"#444"},"encoding":{"y":{"datum":0,"type":"quantitative","scale":{"domain":[0,35],"nice":false},"axis":{"title":"Old PSMs","values":[0,35],"titleY":17,"titlePadding":1,"labelPadding":3}}}},
 {"mark":{"type":"rule","color":"#222","strokeWidth":0.8},"encoding":{"x":{"field":"m","type":"quantitative","scale":{"domain":[0,4244],"nice":false,"zero":false},"axis":null},"y":{"field":"oe","type":"quantitative","title":"Old PSMs"},"y2":{"field":"o"}}},
 {"mark":{"type":"bar","orient":"vertical","size":1.6,"color":"#8b0000"},"encoding":{"x":{"field":"m","type":"quantitative"},"y":{"field":"o","type":"quantitative","title":"Old PSMs","stack":null}}}
]},
{"width":275,"height":19,"data":{"name":"D"},"layer":[
 {"mark":{"type":"rule","color":"#444"},"encoding":{"y":{"datum":0,"type":"quantitative","scale":{"domain":[0,21],"nice":false},"axis":{"title":"Old PSMs","values":[0,21],"titleY":17,"titlePadding":1,"labelPadding":3}}}},
 {"mark":{"type":"rule","color":"#222","strokeWidth":1},"encoding":{"x":{"field":"m","type":"quantitative","scale":{"domain":[0,1156],"nice":false,"zero":false},"axis":null},"y":{"field":"oe","type":"quantitative","title":"Old PSMs"},"y2":{"field":"o"}}},
 {"mark":{"type":"bar","orient":"vertical","size":4,"color":"#8b0000"},"encoding":{"x":{"field":"m","type":"quantitative"},"y":{"field":"o","type":"quantitative","title":"Old PSMs","stack":null}}}
]},
{"width":269,"height":26,"data":{"name":"C"},"mark":{"type":"rect","stroke":"#9a9a9a","strokeWidth":0.6,"cornerRadius":1.2,"xOffset":0.4,"x2Offset":-0.4},"encoding":{"x":{"field":"s","type":"quantitative","scale":{"domain":[0,4244],"nice":false,"zero":false},"axis":null},"x2":{"field":"e"},"y":{"datum":"r","type":"nominal","scale":{"paddingInner":0,"paddingOuter":0.3667,"align":0},"axis":null},"color":{"field":"ho","type":"quantitative","scale":{"domain":[0,1],"range":["#ffffff","#8b0000"],"interpolate":"rgb"},"legend":null}}},
{"width":275,"height":26,"data":{"name":"D"},"mark":{"type":"rect","stroke":"#9a9a9a","strokeWidth":0.8,"cornerRadius":2,"xOffset":0.6,"x2Offset":-0.6},"encoding":{"x":{"field":"s","type":"quantitative","scale":{"domain":[0,1156],"nice":false,"zero":false},"axis":null},"x2":{"field":"e"},"y":{"datum":"r","type":"nominal","scale":{"paddingInner":0,"paddingOuter":0.3667,"align":0},"axis":null},"color":{"field":"ho","type":"quantitative","scale":{"domain":[0,1],"range":["#ffffff","#8b0000"],"interpolate":"rgb"},"legend":null}}},
{"width":269,"height":10,"data":{"values":[{"z":0,"len":4244,"one":1,"lab":"4244 aa"}]},"layer":[
 {"mark":{"type":"rule","color":"#111","strokeWidth":1},"encoding":{"x":{"field":"z","type":"quantitative","scale":{"domain":[0,4244],"nice":false,"zero":false},"axis":null},"x2":{"field":"len"},"y":{"field":"one","type":"quantitative","scale":{"domain":[0,1]},"axis":null}}},
 {"mark":{"type":"point","shape":"triangle-right","size":30,"filled":true,"color":"#111","opacity":1},"encoding":{"x":{"field":"len","type":"quantitative"},"y":{"field":"one","type":"quantitative"}}},
 {"mark":{"type":"text","fontSize":9,"dy":10,"dx":-4,"color":"#111"},"encoding":{"x":{"field":"len","type":"quantitative"},"y":{"field":"one","type":"quantitative"},"text":{"field":"lab"}}}
]},
{"width":275,"height":10,"data":{"values":[{"z":0,"len":1156,"one":1,"lab":"1156 aa"}]},"layer":[
 {"mark":{"type":"rule","color":"#111","strokeWidth":1},"encoding":{"x":{"field":"z","type":"quantitative","scale":{"domain":[0,1156],"nice":false,"zero":false},"axis":null},"x2":{"field":"len"},"y":{"field":"one","type":"quantitative","scale":{"domain":[0,1]},"axis":null}}},
 {"mark":{"type":"point","shape":"triangle-right","size":30,"filled":true,"color":"#111","opacity":1},"encoding":{"x":{"field":"len","type":"quantitative"},"y":{"field":"one","type":"quantitative"}}},
 {"mark":{"type":"text","fontSize":9,"dy":10,"dx":-8,"color":"#111"},"encoding":{"x":{"field":"len","type":"quantitative"},"y":{"field":"one","type":"quantitative"},"text":{"field":"lab"}}}
]}
],
"columns": 2,
"align": "each",
"bounds": "flush",
"spacing": {"row": 1, "column": 94}
},
{"hconcat": [
{"width":274,"height":17,"data":{"values":[{"v":0}]},"mark":{"type":"rule","opacity":0},"encoding":{"y":{"datum":0,"type":"quantitative","axis":null}}},
{"width":59,"height":17,"data":{"values":[{"a":0,"b":1,"lo":"0","hi":"Highest PSM count"}]},"layer":[
 {"mark":{"type":"rect","stroke":"#222","strokeWidth":1,"fill":{"gradient":"linear","x1":0,"y1":0,"x2":1,"y2":0,"stops":[{"offset":0,"color":"#ffffff"},{"offset":1,"color":"#8b0000"}]}},"encoding":{"x":{"field":"a","type":"quantitative","scale":{"domain":[0,1],"nice":false,"zero":false},"axis":null},"x2":{"field":"b"}}},
 {"mark":{"type":"text","fontSize":9,"align":"right","dx":-7,"color":"#222"},"encoding":{"x":{"field":"a","type":"quantitative"},"text":{"field":"lo"}}},
 {"mark":{"type":"text","fontSize":9,"align":"left","dx":10,"color":"#222"},"encoding":{"x":{"field":"b","type":"quantitative"},"text":{"field":"hi"}}}
]}
],
"spacing": 0}
],
"spacing": 13
}
